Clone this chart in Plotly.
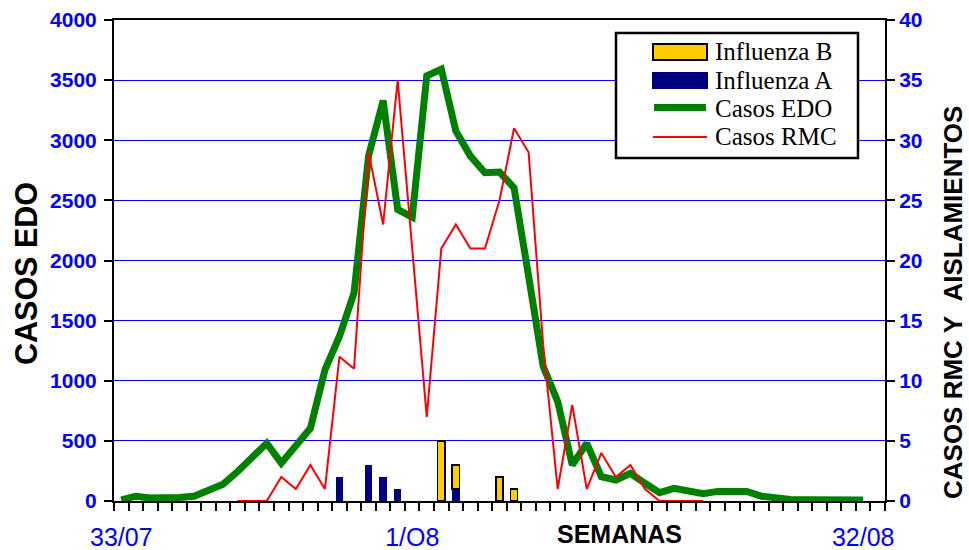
import plotly.graph_objects as go

# ---------------- data ----------------
weeks = [f"{w}/07" for w in range(33, 53)] + [f"{w}/08" for w in range(1, 34)]
shown_labels = {"33/07": "33/07", "1/08": "1/O8", "32/08": "32/08"}

casos_edo = [10, 40, 25, 25, 30, 40, 85, 140, 245, 370,
             480, 315, 450, 605, 1090, 1370, 1730, 2870, 3330, 2425,
             2360, 3535, 3590, 3077, 2868, 2730, 2735, 2605, 1870, 1120,
             827, 300, 480, 202, 175, 230, 147, 70, 105, 82,
             60, 80, 73, 80, 40, 25, 12, 10, 8, 8,
             8, 8]

casos_rmc = [None] * 8 + [0, 0, 0, 2, 1, 3, 1, 12, 11, 29,
                          23, 35, 21, 7, 21, 23, 21, 21, 25, 31,
                          29, 13, 1, 8, 1, 4, 2, 3, 1, 0,
                          0, 0, 0]

flu_a_weeks = ["48/07", "50/07", "51/07", "52/07", "4/08"]
flu_a_vals = [2, 3, 2, 1, 1]
flu_b_weeks = ["3/08", "4/08", "7/08", "8/08"]
flu_b_vals = [5, 2, 2, 1]

# ---------------- geometry helpers (layout only) ----------------
L, R, T, B = 114, 885, 20, 501
W, H = 969, 550


def px(xp):
    return (xp - L) / (R - L)


def py(yp):
    return (B - yp) / (B - T)


SANS = "Liberation Sans, Arial, sans-serif"
SERIF = "Liberation Serif, Times New Roman, serif"

fig = go.Figure()

fig.add_trace(go.Bar(name="Influenza A", x=flu_a_weeks, y=flu_a_vals,
                     xaxis="x", yaxis="y2", width=0.5,
                     marker=dict(color="#000080", line=dict(width=0))))
fig.add_trace(go.Bar(name="Influenza B", x=flu_b_weeks, y=flu_b_vals,
                     xaxis="x", yaxis="y2", width=0.5,
                     marker=dict(color="#FFCC00", line=dict(color="black", width=1.5))))
fig.add_trace(go.Scatter(name="Casos EDO", x=weeks[:len(casos_edo)], y=casos_edo,
                         mode="lines", yaxis="y",
                         line=dict(color="#008000", width=7)))
fig.add_trace(go.Scatter(name="Casos RMC", x=weeks[:len(casos_rmc)], y=casos_rmc,
                         mode="lines", yaxis="y2", connectgaps=False,
                         line=dict(color="#FF0000", width=2)))

fig.update_layout(
    width=W, height=H,
    margin=dict(l=L, r=W - R, t=T, b=H - B, autoexpand=False),
    plot_bgcolor="white", paper_bgcolor="white",
    showlegend=False, barmode="stack",
    xaxis=dict(
        type="category", categoryorder="array", categoryarray=weeks,
        range=[-0.5, len(weeks) - 0.5], automargin=False,
        tickmode="array", tickvals=weeks,
        ticktext=[shown_labels.get(w, "") for w in weeks],
        tickangle=0,
        tickson="boundaries", ticks="outside", ticklen=8, tickwidth=2,
        tickcolor="black", showline=True, linecolor="black", linewidth=2,
        mirror=True, showgrid=False, zeroline=False,
        tickfont=dict(family=SANS, size=25, color="#0000FF"),
        ticklabelstandoff=13,
    ),
    yaxis=dict(
        range=[0, 4000], tickmode="linear", tick0=0, dtick=500, automargin=False,
        ticks="outside", ticklen=8, tickwidth=2, tickcolor="black",
        showline=True, linecolor="black", linewidth=2,
        showgrid=True, gridcolor="#0000FF", gridwidth=1, zeroline=False,
        tickfont=dict(family=SANS, size=21, color="#0000FF", weight="bold"),
        ticklabelstandoff=3,
    ),
    yaxis2=dict(
        overlaying="y", side="right", automargin=False,
        range=[0, 40], tickmode="linear", tick0=0, dtick=5,
        ticks="outside", ticklen=8, tickwidth=2, tickcolor="black",
        showline=True, linecolor="black", linewidth=2,
        showgrid=False, zeroline=False,
        tickfont=dict(family=SANS, size=21, color="#0000FF", weight="bold"),
        ticklabelstandoff=0,
    ),
)

annotations = [
    dict(text="SEMANAS", x=px(619), y=py(534), xref="paper", yref="paper",
         showarrow=False, xanchor="center", yanchor="middle", borderpad=0,
         font=dict(family=SANS, size=25, color="black", weight="bold")),
    dict(text="CASOS EDO", x=px(26), y=py(274), xref="paper", yref="paper",
         showarrow=False, textangle=-90, xanchor="center", yanchor="middle",
         font=dict(family=SANS, size=30.5, color="black", weight="bold")),
    dict(text="CASOS RMC Y\u00a0\u00a0AISLAMIENTOS", x=px(953), y=py(302),
         xref="paper", yref="paper", showarrow=False, textangle=-90,
         xanchor="center", yanchor="middle", borderpad=0,
         font=dict(family=SANS, size=26, color="black", weight="bold")),
]

legend_rows = [("Influenza B", 51.7), ("Influenza A", 80.0),
               ("Casos EDO", 108.3), ("Casos RMC", 136.7)]
for name, yc in legend_rows:
    annotations.append(dict(text=name, x=px(714), y=py(yc), xref="paper", yref="paper",
                            showarrow=False, xanchor="left", yanchor="middle",
                            borderpad=0,
                            font=dict(family=SERIF, size=25, color="black")))

shapes = [
    dict(type="rect", xref="paper", yref="paper", x0=px(616), x1=px(858),
         y0=py(158), y1=py(33), line=dict(color="black", width=2.5),
         fillcolor="white", layer="above"),
    dict(type="rect", xref="paper", yref="paper", x0=px(653), x1=px(707),
         y0=py(60), y1=py(44), line=dict(color="black", width=2),
         fillcolor="#FFCC00", layer="above"),
    dict(type="rect", xref="paper", yref="paper", x0=px(652), x1=px(708),
         y0=py(89), y1=py(72), line=dict(width=0),
         fillcolor="#000080", layer="above"),
    dict(type="line", xref="paper", yref="paper", x0=px(654), x1=px(706),
         y0=py(107.5), y1=py(107.5), line=dict(color="#008000", width=7),
         layer="above"),
    dict(type="line", xref="paper", yref="paper", x0=px(653), x1=px(707),
         y0=py(137), y1=py(137), line=dict(color="#FF0000", width=2),
         layer="above"),
]

fig.update_layout(annotations=annotations, shapes=shapes)

fig.write_html("out.html",
               config={"displayModeBar": False},
               post_script="document.body.style.margin='0px';document.body.style.overflow='hidden';")
